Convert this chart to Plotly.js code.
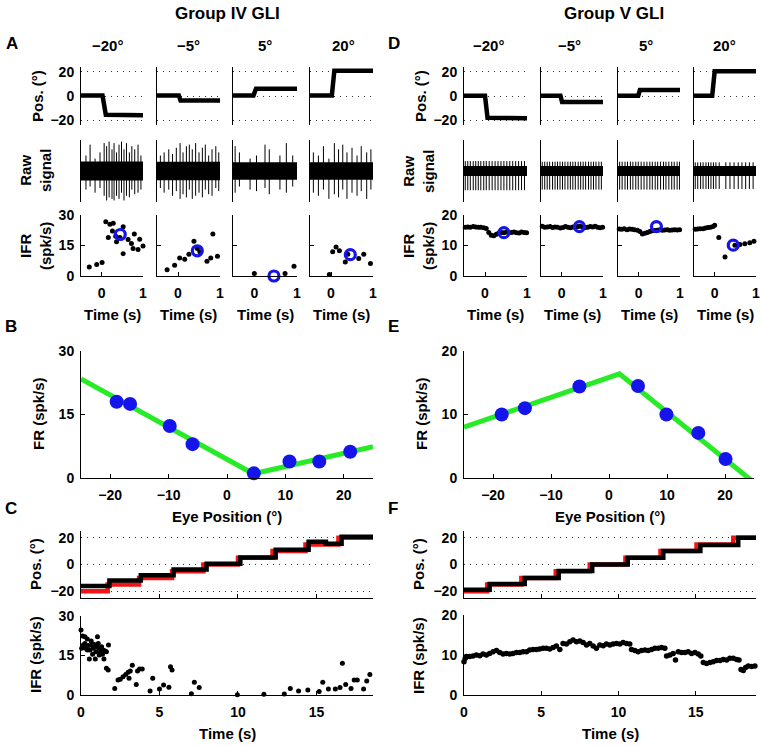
<!DOCTYPE html>
<html><head><meta charset="utf-8">
<script src="https://cdn.plot.ly/plotly-3.0.1.min.js"></script>
<style>html,body{margin:0;padding:0;background:#fff}#chart{width:762px;height:746px}</style>
</head><body><div id="chart"></div>
<script>
// ---------------- DATA ----------------
const colTitles = ['−20°','−5°','5°','20°'];
// Panel A (Group IV) position traces
const aPosT = [[-0.5,0.02,0.1,0.55,1.0],[-0.5,0.02,0.06,0.5,1.0],[-0.5,-0.02,0.04,0.5,1.0],[-0.5,0.02,0.08,0.5,1.0]];
const aPosV = [[0.5,0.5,-15.5,-16,-16],[0.5,0.5,-3.8,-3.8,-3.8],[0.5,0.5,6,6,6],[0.5,0.5,21,21,21]];
// Panel D (Group V) position traces
const dPosT = [[-0.5,0.0,0.06,0.4,1.0],[-0.5,-0.03,0.01,0.5,1.0],[-0.5,-0.01,0.03,0.5,1.0],[-0.5,-0.06,0.0,0.5,1.0]];
const dPosV = [[0.3,0.3,-18,-18.5,-18.5],[0.3,0.3,-5,-5,-5],[0.3,0.3,5,5,5],[0.3,0.3,20.5,20.5,20.5]];
// Raw signal: noise band half-width and spikes (time, up tip, down tip)
const aNoise = [0.31,0.3,0.28,0.28];
const aSpikeT = [
 [-0.38,-0.28,-0.16,-0.04,0.06,0.12,0.18,0.25,0.30,0.36,0.42,0.48,0.54,0.60,0.67,0.73,0.80,0.88,0.95],
 [-0.42,-0.33,-0.22,-0.13,-0.04,0.05,0.12,0.2,0.27,0.34,0.42,0.5,0.58,0.65,0.73,0.81,0.9,0.97],
 [-0.45,-0.35,-0.1,0.05,0.25,0.35,0.6,0.75,0.9],
 [-0.42,-0.3,-0.18,-0.05,0.08,0.18,0.28,0.38,0.5,0.62,0.72,0.85,0.95]];
const aSpikeUp = [
 [0.5,0.85,0.4,0.6,0.9,0.8,0.95,0.7,0.9,0.6,0.85,0.95,0.7,0.9,0.6,0.8,0.7,0.85,0.5],
 [0.5,0.6,0.7,0.55,0.75,0.9,0.6,0.8,0.85,0.7,0.9,0.6,0.75,0.85,0.5,0.7,0.8,0.6],
 [0.8,0.6,0.4,0.5,0.85,0.7,0.5,0.9,0.5],
 [0.6,0.5,0.8,0.4,0.9,0.7,0.85,0.6,0.75,0.5,0.8,0.6,0.7]];
const aSpikeDn = [
 [-0.6,-0.5,-0.7,-0.55,-0.8,-0.95,-0.85,-0.9,-0.95,-0.8,-0.9,-0.7,-0.95,-0.8,-0.85,-0.6,-0.75,-0.7,-0.6],
 [-0.55,-0.7,-0.6,-0.8,-0.65,-0.9,-0.75,-0.85,-0.6,-0.9,-0.8,-0.7,-0.85,-0.6,-0.75,-0.8,-0.55,-0.65],
 [-0.7,-0.5,-0.6,-0.65,-0.55,-0.75,-0.6,-0.7,-0.5],
 [-0.7,-0.8,-0.6,-0.9,-0.75,-0.85,-0.6,-0.9,-0.7,-0.8,-0.65,-0.9,-0.6]];
const dNoise = [0.16,0.16,0.16,0.16];
const dSpikeT = [
 [-0.47,-0.41,-0.35,-0.28,-0.22,-0.16,-0.10,-0.03,0.03,0.10,0.17,0.24,0.31,0.38,0.45,0.52,0.59,0.66,0.73,0.80,0.87,0.94],
 [-0.47,-0.41,-0.35,-0.29,-0.22,-0.16,-0.10,-0.04,0.02,0.08,0.15,0.21,0.27,0.33,0.40,0.46,0.52,0.58,0.65,0.71,0.77,0.83,0.90,0.96],
 [-0.46,-0.40,-0.33,-0.27,-0.20,-0.14,-0.07,-0.01,0.06,0.13,0.20,0.27,0.33,0.40,0.46,0.53,0.60,0.66,0.73,0.80,0.86,0.93,0.99],
 [-0.47,-0.41,-0.34,-0.28,-0.21,-0.15,-0.09,-0.03,0.03,0.11,0.27,0.37,0.47,0.57,0.66,0.75,0.84,0.93]];
const dSpikeUp = [0.32,0.3,0.3,0.28];
const dSpikeDn = [-0.62,-0.6,-0.6,-0.58];
// IFR single-trial points, panel A
const aIfrT = [
 [-0.3,-0.12,0.01,0.1,0.2,0.28,0.16,0.26,0.34,0.36,0.52,0.64,0.72,0.79,0.88,0.76,0.92,1.0,0.52,0.44],
 [-0.26,-0.08,0.04,0.16,0.26,0.38,0.46,0.52,0.69,0.78,0.83,0.94],
 [0.0,0.72,0.93],
 [-0.04,0.04,0.12,0.2,0.34,0.4,0.66,0.78,0.94]];
const aIfrV = [
 [4.4,5.6,6.6,26.7,25.4,25.9,18.9,22.1,19.6,16.8,24.2,18.0,16,20.6,13,13.5,18.1,14.7,11,18.9],
 [3.1,5.3,8.9,8.2,10.7,17.1,13.5,11.9,7.2,8.9,20.6,9.7],
 [1.2,1.2,4.8],
 [0.7,11.9,14.3,12.4,6.9,10.7,8.6,10.7,6.1]];
const aMeanT = [0.45,0.46,0.46,0.46];
const aMeanV = [20.4,12.4,0,10.5];
// IFR points, panel D
const dIfrT = [
 [-0.47,-0.41,-0.35,-0.28,-0.22,-0.16,-0.10,-0.03,0.03,0.09,0.15,0.21,0.27,0.33,0.39,0.45,0.51,0.57,0.63,0.69,0.75,0.81,0.87,0.93,0.99],
 [-0.47,-0.41,-0.35,-0.28,-0.22,-0.16,-0.10,-0.03,0.03,0.09,0.15,0.21,0.27,0.33,0.39,0.45,0.51,0.57,0.63,0.69,0.75,0.81,0.87,0.93,0.99],
 [-0.47,-0.41,-0.35,-0.28,-0.22,-0.16,-0.10,-0.03,0.03,0.09,0.15,0.21,0.27,0.33,0.39,0.45,0.51,0.57,0.63,0.69,0.75,0.81,0.87,0.93,0.99],
 [-0.47,-0.41,-0.35,-0.28,-0.22,-0.16,-0.10,-0.04,0.0,0.1,0.25,0.49,0.61,0.73,0.85,0.95]];
const dIfrV = [
 [16.0,16.1,16.0,16.2,16.1,16.0,16.0,15.8,15.6,14.3,13.4,13.2,13.7,14.1,14.3,14.2,14.4,14.2,14.3,14.4,14.2,14.1,14.4,14.3,14.2],
 [16.3,16.0,16.1,16.2,15.9,16.1,16.0,15.7,15.9,16.2,16.0,15.8,16.1,16.0,16.2,16.3,16.1,15.9,16.0,16.2,16.1,16.3,16.0,15.8,16.0],
 [15.4,15.3,15.5,15.2,15.4,15.3,15.2,15.0,14.6,13.8,14.0,14.3,14.6,14.8,14.9,15.0,15.2,15.0,15.1,15.2,15.0,15.1,15.2,15.1,15.2],
 [15.3,15.4,15.5,15.5,15.7,15.9,16.0,16.2,16.6,12.6,6.2,10.1,10.3,10.6,10.9,11.4]];
const dMeanT = [0.45,0.43,0.43,0.45];
const dMeanV = [14.2,16.2,16.2,10.1];
// Panel B: tuning, Group IV
const bEye = [-18.9,-16.6,-9.8,-5.9,4.6,10.7,15.8,21.1];
const bFR = [18.0,17.5,12.3,8.0,1.1,3.9,3.9,6.2];
const bFitX = [-25,4.5,25];
const bFitY = [23.4,1.0,7.4];
// Panel E: tuning, Group V
const eEye = [-18.5,-14.5,-5.1,5.0,9.9,15.4,20.1];
const eFR = [10.0,11.0,14.4,14.5,10.0,7.1,3.0];
const eFitX = [-25,1.8,25];
const eFitY = [8.0,16.4,-0.7];
// Panel C: staircase, Group IV
const cTargT = [0,1.7,3.7,5.8,7.8,10.0,12.2,14.3,16.4,18.6];
const cTargV = [-20,-15,-10,-5,0,5,10,15,20,20];
const cEyeT = [0,1.81,3.81,5.9,8.0,10.15,12.4,14.5,15.6,16.6,18.6];
const cEyeV = [-16,-12,-8,-3.7,0.5,5.3,11,16.9,15.5,20.8,20.8];
const cIfrT = [0.0,0.1,0.25,0.4,0.15,0.3,0.47,0.57,0.68,0.78,0.53,0.82,0.95,1.05,1.0,1.16,0.91,1.24,1.31,1.41,1.46,1.37,1.54,1.62,1.75,1.16,0.74,0.25,0.04,0.4,1.1,0.65,
 1.62,1.73,2.15,2.36,2.5,2.68,2.85,3.0,3.14,3.27,3.06,3.52,3.6,3.73,3.9,4.4,4.57,5.0,5.26,5.6,5.7,5.8,7.03,7.22,7.53,9.96,11.65,12.95,13.33,13.86,14.45,15.17,15.4,15.76,16.2,16.5,16.65,16.86,17.2,17.4,17.6,18.0,18.2,18.4];
const cIfrV = [24.6,22.3,22,21.2,18.9,17.7,18.7,17,18.9,17.7,13.6,19.2,16.4,22,18.3,17.7,13.6,16.4,18.3,17,13.6,15.4,16.6,16.4,18.9,15.1,15.4,19.5,17.7,17,19.5,20.4,
 10.1,9.5,2.5,5.7,6,6.9,7.8,8.6,9.1,11.3,6.3,4,9.1,9.8,9.8,1.5,6.3,2.3,3.8,2.9,10.7,9.5,0.5,4.8,2.8,0.1,0.25,0.4,2.5,1.5,1.9,1.3,4.8,2.3,2.3,2.8,12,4.0,2.5,5.7,5.7,2.3,5.3,7.8];
// Panel F: staircase, Group V
const fTargT = [0,1.5,3.71,5.94,8.14,10.45,12.72,15.05,17.43,18.9];
const fTargV = [-20,-15,-10,-5,0,5,10,15,20,20];
const fEyeT = [0,1.66,3.93,6.13,8.3,10.6,12.9,15.3,17.75,18.9];
const fEyeV = [-18.8,-14.5,-10,-4.8,0,5,10,14.6,20,20];
const fIfrT = [0,0.08,0.15,0.37,0.58,0.80,1.02,1.23,1.45,1.66,1.88,2.10,2.31,2.53,2.74,2.96,3.17,3.39,3.61,3.82,4.04,4.25,4.47,4.69,4.90,5.12,5.33,5.55,5.77,5.98,6.20,6.41,6.63,6.85,7.06,7.28,7.49,7.71,7.93,8.14,8.36,8.57,8.79,9.01,9.22,9.44,9.65,9.87,10.09,10.30,10.52,10.73,
 10.84,11.06,11.27,11.49,11.71,11.92,12.14,12.35,12.57,12.79,13.00,13.11,13.33,13.54,13.69,13.87,14.08,14.30,14.51,14.73,14.95,15.16,15.33,15.49,15.70,15.92,16.13,16.35,16.57,16.78,17.00,17.21,17.43,17.65,17.80,17.93,18.08,18.23,18.40,18.62,18.83];
const fIfrV = [8.3,9.2,9.6,9.6,9.75,10,9.8,10.25,10,10.4,10.8,11.1,10.6,10.25,10.4,10.25,10.4,10.6,10.6,10.8,10.8,11.25,11.4,11.4,11.5,11.7,11.7,11.5,11.9,12.25,11.4,12.9,12.75,13.3,13.75,13.3,13.5,13.1,12.5,12.9,12.25,11.7,12.5,12.3,12.75,12.5,12.75,12.9,12.75,13.1,12.9,12.75,
 11.4,11.1,10.8,11.1,11.25,11.1,11.4,11.7,11.7,11.9,11.7,9.75,10,10.4,8.75,10.8,10.6,10.6,10.8,10.4,10.6,10.25,9.75,8.1,7.9,8.1,8.3,8.6,8.6,8.9,8.75,9.2,9.2,8.9,8.75,6.4,6.1,6.9,7.25,7.1,7.25];

// ---------------- LAYOUT ----------------
const W=762,H=746;
const FONT='"Liberation Sans", Arial, Helvetica, sans-serif';
const BLUE='rgb(20,20,235)', GREEN='rgb(40,235,40)', RED='rgb(240,20,20)';
const tf={family:FONT,size:14,color:'#000',weight:'bold'};
const layout={width:W,height:H,margin:{l:0,r:0,t:0,b:0},paper_bgcolor:'#fff',plot_bgcolor:'rgba(0,0,0,0)',showlegend:false,annotations:[]};
const traces=[];
let n=0;
function addAxes(xpx,ypx,xo,yo){
  n++;
  const xk=n===1?'xaxis':'xaxis'+n, yk=n===1?'yaxis':'yaxis'+n;
  const xs=n===1?'x':'x'+n, ys=n===1?'y':'y'+n;
  const base={showline:true,linecolor:'#000',linewidth:1,ticks:'inside',ticklen:4,tickcolor:'#000',tickwidth:1,showgrid:false,zeroline:false,tickfont:tf,fixedrange:true};
  layout[xk]=Object.assign({},base,{domain:[xpx[0]/W,xpx[1]/W],anchor:ys,ticklabelstandoff:4},xo);
  layout[yk]=Object.assign({},base,{domain:[1-ypx[1]/H,1-ypx[0]/H],anchor:xs,ticklabelstandoff:3},yo);
  return {xaxis:xs,yaxis:ys};
}
function ann(text,px,py,size,opt){
  layout.annotations.push(Object.assign({text:text,x:px/W,y:1-py/H,xref:'paper',yref:'paper',showarrow:false,xanchor:'center',yanchor:'middle',font:{family:FONT,size:size,color:'#000',weight:'bold'}},opt||{}));
}
const dotGrid={showgrid:true,gridcolor:'#333',griddash:'1px,5px',gridwidth:1};

function stepPanels(xcols, posT, posV, noise, spikeT, spikeUp, spikeDn, ifrT, ifrV, meanT, meanV, ifrRange, ifrTicks, dSc){
  for(let i=0;i<4;i++){
    const xp=xcols[i];
    // position
    let ax=addAxes(xp,[67,125],{visible:false,range:[-0.5,1]},Object.assign({range:[-24,24],tickvals:[-20,0,20],ticks:'',showticklabels:i===0},dotGrid));
    traces.push(Object.assign({x:posT[i],y:posV[i],mode:'lines',line:{color:'#000',width:4.5},hoverinfo:'skip'},ax));
    // raw
    ax=addAxes(xp,[140,202],{visible:false,range:[-0.5,1]},{range:[-1,1],ticks:'',showticklabels:false});
    const nz=noise[i];
    traces.push(Object.assign({x:[-0.5,1,1,-0.5],y:[nz,nz,-nz,-nz],mode:'lines',fill:'toself',fillcolor:'#000',line:{width:0,color:'#000'},hoverinfo:'skip'},ax));
    const sx=[],sy=[];
    spikeT[i].forEach((t,k)=>{
      const up=dSc?spikeUp[i]:spikeUp[i][k], dn=dSc?spikeDn[i]:spikeDn[i][k];
      sx.push(t,t,null); sy.push(dn,up,null);
    });
    traces.push(Object.assign({x:sx,y:sy,mode:'lines',line:{color:'#000',width:1},hoverinfo:'skip'},ax));
    // IFR
    ax=addAxes(xp,[215,276],{range:[-0.5,1],tickvals:[0,1]},{range:ifrRange,tickvals:ifrTicks,showticklabels:i===0});
    traces.push(Object.assign({x:ifrT[i],y:ifrV[i],mode:'markers',marker:{color:'#000',size:5},cliponaxis:false,hoverinfo:'skip'},ax));
    traces.push(Object.assign({x:[meanT[i]],y:[meanV[i]],mode:'markers',marker:{symbol:'circle-open',color:BLUE,size:10,line:{width:3.2,color:BLUE}},cliponaxis:false,hoverinfo:'skip'},ax));
  }
}
const aX=[[81,143],[157,220],[233,297],[310,373]];
const dX=[[464,527],[541,603],[618,680],[694,756]];
stepPanels(aX,aPosT,aPosV,aNoise,aSpikeT,aSpikeUp,aSpikeDn,aIfrT,aIfrV,aMeanT,aMeanV,[0,30],[0,15,30],false);
stepPanels(dX,dPosT,dPosV,dNoise,dSpikeT,dSpikeUp,dSpikeDn,dIfrT,dIfrV,dMeanT,dMeanV,[0,20],[0,10,20],true);

// B
let ax=addAxes([81,373],[351,478],{range:[-25,25],tickvals:[-20,-10,0,10,20]},{range:[0,30],tickvals:[0,15,30]});
traces.push(Object.assign({x:bFitX,y:bFitY,mode:'lines',line:{color:GREEN,width:5},hoverinfo:'skip'},ax));
traces.push(Object.assign({x:bEye,y:bFR,mode:'markers',marker:{color:BLUE,size:14},cliponaxis:false,hoverinfo:'skip'},ax));
// E
ax=addAxes([464,754],[351,478],{range:[-25,25],tickvals:[-20,-10,0,10,20]},{range:[0,20],tickvals:[0,10,20]});
traces.push(Object.assign({x:eFitX,y:eFitY,mode:'lines',line:{color:GREEN,width:5},hoverinfo:'skip'},ax));
traces.push(Object.assign({x:eEye,y:eFR,mode:'markers',marker:{color:BLUE,size:14},cliponaxis:false,hoverinfo:'skip'},ax));
// C
ax=addAxes([81,373],[531,598],{range:[0,18.6],tickvals:[0,5,10,15],showticklabels:false},Object.assign({range:[-25,25],tickvals:[-20,0,20],ticks:''},dotGrid));
traces.push(Object.assign({x:cTargT,y:cTargV,mode:'lines',line:{color:RED,width:4.5,shape:'hv'},hoverinfo:'skip'},ax));
traces.push(Object.assign({x:cEyeT,y:cEyeV,mode:'lines',line:{color:'#000',width:4.5,shape:'hv'},hoverinfo:'skip'},ax));
ax=addAxes([81,373],[615.7,695],{range:[0,18.6],tickvals:[0,5,10,15]},{range:[0,30],tickvals:[0,15,30]});
traces.push(Object.assign({x:cIfrT,y:cIfrV,mode:'markers',marker:{color:'#000',size:5},cliponaxis:false,hoverinfo:'skip'},ax));
// F
ax=addAxes([464,756],[531,598],{range:[0,18.9],tickvals:[0,5,10,15],showticklabels:false},Object.assign({range:[-25,25],tickvals:[-20,0,20],ticks:''},dotGrid));
traces.push(Object.assign({x:fTargT,y:fTargV,mode:'lines',line:{color:RED,width:4.5,shape:'hv'},hoverinfo:'skip'},ax));
traces.push(Object.assign({x:fEyeT,y:fEyeV,mode:'lines',line:{color:'#000',width:4.5,shape:'hv'},hoverinfo:'skip'},ax));
ax=addAxes([464,756],[615,695],{range:[0,18.9],tickvals:[0,5,10,15]},{range:[0,20],tickvals:[0,10,20]});
traces.push(Object.assign({x:fIfrT,y:fIfrV,mode:'markers',marker:{color:'#000',size:5.5},cliponaxis:false,hoverinfo:'skip'},ax));

// ---------------- TEXT ----------------
ann('Group IV GLI',227,13,17);
ann('Group V GLI',614,13,17);
[['A',12,43],['B',11,327],['C',11,508],['D',394,43],['E',393,327],['F',393,508]].forEach(a=>ann(a[0],a[1],a[2],17));
const aTx=[107,188,265,343], dTx=[488,569,646,724];
colTitles.forEach((t,i)=>{ann(t,aTx[i],45,15);ann(t,dTx[i],45,15);});
[0,383].forEach(off=>{
  ann('Pos. (°)',38+off,96,15,{textangle:-90});
  ann('Raw<br>signal',35+off,171,15,{textangle:-90});
  ann('IFR<br>(spk/s)',35+off,246,15,{textangle:-90});
  ann('FR (spk/s)',38+off,414,15,{textangle:-90});
  ann('Pos. (°)',35+off,564,15,{textangle:-90});
  ann('IFR (spk/s)',35+off,655,15,{textangle:-90});
  ann('Eye Position (°)',227+off,516,15);
  ann('Time (s)',227+off,733,15);
});
aX.concat(dX).forEach(xp=>ann('Time (s)',(xp[0]+xp[1])/2,314,15));

Plotly.newPlot('chart',traces,layout,{staticPlot:true,displayModeBar:false});
</script>
</body></html>
